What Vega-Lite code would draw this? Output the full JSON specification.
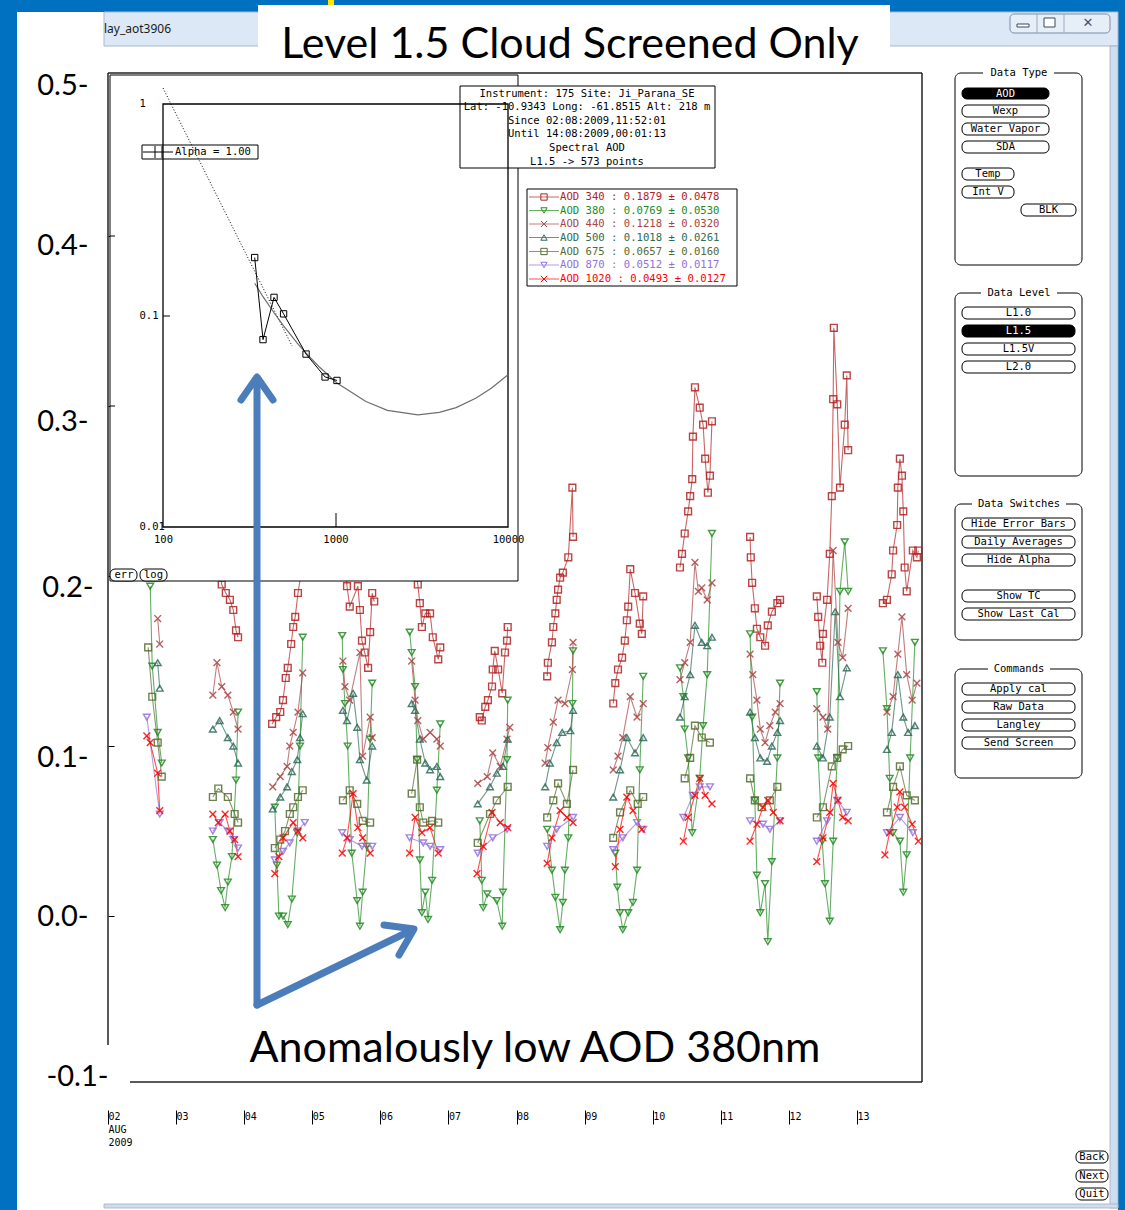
{
"$schema":"https://vega.github.io/schema/vega-lite/v6.json",
"width":1125,"height":1210,"autosize":"none","padding":0,"background":"white",
"config":{"view":{"stroke":null},"axis":{"grid":false,"title":null}},
"resolve":{"scale":{"x":"independent","y":"independent","color":"independent","shape":"independent"},"axis":{"x":"independent","y":"independent"}},
"datasets":{
"aod":[
{"w":340,"d":2,"t":2.59,"v":0.26},{"w":340,"d":2,"t":2.65,"v":0.24},{"w":340,"d":2,"t":2.73,"v":0.25},
{"w":380,"d":2,"t":2.62,"v":0.194},{"w":380,"d":2,"t":2.65,"v":0.147},{"w":380,"d":2,"t":2.73,"v":0.108},{"w":380,"d":2,"t":2.79,"v":0.09},
{"w":440,"d":2,"t":2.73,"v":0.175},{"w":440,"d":2,"t":2.76,"v":0.16},
{"w":500,"d":2,"t":2.73,"v":0.149},{"w":500,"d":2,"t":2.76,"v":0.134},
{"w":675,"d":2,"t":2.59,"v":0.158},{"w":675,"d":2,"t":2.65,"v":0.129},{"w":675,"d":2,"t":2.73,"v":0.102},{"w":675,"d":2,"t":2.79,"v":0.082},
{"w":870,"d":2,"t":2.57,"v":0.117},{"w":870,"d":2,"t":2.76,"v":0.06},
{"w":1020,"d":2,"t":2.57,"v":0.106},{"w":1020,"d":2,"t":2.62,"v":0.102},{"w":1020,"d":2,"t":2.73,"v":0.084},{"w":1020,"d":2,"t":2.76,"v":0.062},
{"w":340,"d":3,"t":3.56,"v":0.23},{"w":340,"d":3,"t":3.62,"v":0.215},{"w":340,"d":3,"t":3.67,"v":0.195},{"w":340,"d":3,"t":3.73,"v":0.19},{"w":340,"d":3,"t":3.79,"v":0.186},{"w":340,"d":3,"t":3.84,"v":0.18},{"w":340,"d":3,"t":3.88,"v":0.168},{"w":340,"d":3,"t":3.91,"v":0.164},
{"w":380,"d":3,"t":3.54,"v":0.045},{"w":380,"d":3,"t":3.60,"v":0.03},{"w":380,"d":3,"t":3.66,"v":0.015},{"w":380,"d":3,"t":3.72,"v":0.005},{"w":380,"d":3,"t":3.76,"v":0.02},{"w":380,"d":3,"t":3.82,"v":0.035},{"w":380,"d":3,"t":3.88,"v":0.08},{"w":380,"d":3,"t":3.91,"v":0.12},
{"w":440,"d":3,"t":3.54,"v":0.13},{"w":440,"d":3,"t":3.60,"v":0.149},{"w":440,"d":3,"t":3.67,"v":0.135},{"w":440,"d":3,"t":3.76,"v":0.13},{"w":440,"d":3,"t":3.84,"v":0.12},{"w":440,"d":3,"t":3.91,"v":0.11},
{"w":500,"d":3,"t":3.54,"v":0.11},{"w":500,"d":3,"t":3.64,"v":0.115},{"w":500,"d":3,"t":3.76,"v":0.105},{"w":500,"d":3,"t":3.84,"v":0.1},{"w":500,"d":3,"t":3.91,"v":0.09},
{"w":675,"d":3,"t":3.54,"v":0.07},{"w":675,"d":3,"t":3.62,"v":0.075},{"w":675,"d":3,"t":3.76,"v":0.07},{"w":675,"d":3,"t":3.86,"v":0.06},{"w":675,"d":3,"t":3.91,"v":0.055},
{"w":870,"d":3,"t":3.54,"v":0.05},{"w":870,"d":3,"t":3.64,"v":0.055},{"w":870,"d":3,"t":3.76,"v":0.05},{"w":870,"d":3,"t":3.84,"v":0.045},{"w":870,"d":3,"t":3.91,"v":0.04},
{"w":1020,"d":3,"t":3.54,"v":0.06},{"w":1020,"d":3,"t":3.62,"v":0.055},{"w":1020,"d":3,"t":3.72,"v":0.06},{"w":1020,"d":3,"t":3.79,"v":0.05},{"w":1020,"d":3,"t":3.86,"v":0.045},{"w":1020,"d":3,"t":3.91,"v":0.035},
{"w":340,"d":4,"t":4.41,"v":0.113},{"w":340,"d":4,"t":4.47,"v":0.117},{"w":340,"d":4,"t":4.53,"v":0.12},{"w":340,"d":4,"t":4.57,"v":0.127},{"w":340,"d":4,"t":4.61,"v":0.14},{"w":340,"d":4,"t":4.64,"v":0.146},{"w":340,"d":4,"t":4.69,"v":0.16},{"w":340,"d":4,"t":4.72,"v":0.17},{"w":340,"d":4,"t":4.75,"v":0.176},{"w":340,"d":4,"t":4.79,"v":0.19},{"w":340,"d":4,"t":4.83,"v":0.2},{"w":340,"d":4,"t":4.88,"v":0.21},
{"w":380,"d":4,"t":4.45,"v":0.064},{"w":380,"d":4,"t":4.48,"v":0.03},{"w":380,"d":4,"t":4.51,"v":0.0},{"w":380,"d":4,"t":4.57,"v":0.0},{"w":380,"d":4,"t":4.64,"v":-0.005},{"w":380,"d":4,"t":4.70,"v":0.01},{"w":380,"d":4,"t":4.78,"v":0.049},{"w":380,"d":4,"t":4.82,"v":0.1},{"w":380,"d":4,"t":4.86,"v":0.164},
{"w":440,"d":4,"t":4.42,"v":0.076},{"w":440,"d":4,"t":4.53,"v":0.082},{"w":440,"d":4,"t":4.63,"v":0.088},{"w":440,"d":4,"t":4.67,"v":0.1},{"w":440,"d":4,"t":4.72,"v":0.108},{"w":440,"d":4,"t":4.79,"v":0.12},{"w":440,"d":4,"t":4.86,"v":0.143},
{"w":500,"d":4,"t":4.42,"v":0.063},{"w":500,"d":4,"t":4.53,"v":0.07},{"w":500,"d":4,"t":4.63,"v":0.076},{"w":500,"d":4,"t":4.70,"v":0.085},{"w":500,"d":4,"t":4.78,"v":0.092},{"w":500,"d":4,"t":4.82,"v":0.105},{"w":500,"d":4,"t":4.86,"v":0.119},
{"w":675,"d":4,"t":4.45,"v":0.04},{"w":675,"d":4,"t":4.53,"v":0.045},{"w":675,"d":4,"t":4.60,"v":0.05},{"w":675,"d":4,"t":4.67,"v":0.06},{"w":675,"d":4,"t":4.72,"v":0.064},{"w":675,"d":4,"t":4.79,"v":0.07},{"w":675,"d":4,"t":4.86,"v":0.074},
{"w":870,"d":4,"t":4.45,"v":0.033},{"w":870,"d":4,"t":4.57,"v":0.038},{"w":870,"d":4,"t":4.67,"v":0.043},{"w":870,"d":4,"t":4.78,"v":0.05},{"w":870,"d":4,"t":4.89,"v":0.055},
{"w":1020,"d":4,"t":4.45,"v":0.025},{"w":1020,"d":4,"t":4.51,"v":0.035},{"w":1020,"d":4,"t":4.57,"v":0.046},{"w":1020,"d":4,"t":4.72,"v":0.055},{"w":1020,"d":4,"t":4.79,"v":0.05},{"w":1020,"d":4,"t":4.86,"v":0.046},
{"w":340,"d":5,"t":5.44,"v":0.22},{"w":340,"d":5,"t":5.48,"v":0.21},{"w":340,"d":5,"t":5.51,"v":0.194},{"w":340,"d":5,"t":5.55,"v":0.182},{"w":340,"d":5,"t":5.67,"v":0.194},{"w":340,"d":5,"t":5.70,"v":0.18},{"w":340,"d":5,"t":5.73,"v":0.162},{"w":340,"d":5,"t":5.77,"v":0.155},{"w":340,"d":5,"t":5.82,"v":0.146},{"w":340,"d":5,"t":5.85,"v":0.167},{"w":340,"d":5,"t":5.88,"v":0.19},{"w":340,"d":5,"t":5.91,"v":0.185},
{"w":380,"d":5,"t":5.44,"v":0.165},{"w":380,"d":5,"t":5.45,"v":0.145},{"w":380,"d":5,"t":5.48,"v":0.125},{"w":380,"d":5,"t":5.52,"v":0.1},{"w":380,"d":5,"t":5.58,"v":0.037},{"w":380,"d":5,"t":5.66,"v":0.009},{"w":380,"d":5,"t":5.70,"v":-0.006},{"w":380,"d":5,"t":5.74,"v":0.014},{"w":380,"d":5,"t":5.80,"v":0.041},{"w":380,"d":5,"t":5.85,"v":0.104},{"w":380,"d":5,"t":5.88,"v":0.137},
{"w":440,"d":5,"t":5.45,"v":0.15},{"w":440,"d":5,"t":5.48,"v":0.135},{"w":440,"d":5,"t":5.55,"v":0.127},{"w":440,"d":5,"t":5.70,"v":0.155},{"w":440,"d":5,"t":5.74,"v":0.094},{"w":440,"d":5,"t":5.85,"v":0.117},{"w":440,"d":5,"t":5.88,"v":0.105},
{"w":500,"d":5,"t":5.45,"v":0.121},{"w":500,"d":5,"t":5.51,"v":0.115},{"w":500,"d":5,"t":5.60,"v":0.131},{"w":500,"d":5,"t":5.66,"v":0.111},{"w":500,"d":5,"t":5.70,"v":0.092},{"w":500,"d":5,"t":5.80,"v":0.08},{"w":500,"d":5,"t":5.88,"v":0.1},
{"w":675,"d":5,"t":5.45,"v":0.068},{"w":675,"d":5,"t":5.55,"v":0.074},{"w":675,"d":5,"t":5.66,"v":0.066},{"w":675,"d":5,"t":5.74,"v":0.056},{"w":675,"d":5,"t":5.85,"v":0.055},
{"w":870,"d":5,"t":5.44,"v":0.049},{"w":870,"d":5,"t":5.55,"v":0.045},{"w":870,"d":5,"t":5.73,"v":0.041},{"w":870,"d":5,"t":5.88,"v":0.041},
{"w":1020,"d":5,"t":5.44,"v":0.037},{"w":1020,"d":5,"t":5.51,"v":0.046},{"w":1020,"d":5,"t":5.60,"v":0.072},{"w":1020,"d":5,"t":5.67,"v":0.052},{"w":1020,"d":5,"t":5.74,"v":0.046},{"w":1020,"d":5,"t":5.85,"v":0.037},
{"w":340,"d":6,"t":6.42,"v":0.23},{"w":340,"d":6,"t":6.48,"v":0.215},{"w":340,"d":6,"t":6.55,"v":0.195},{"w":340,"d":6,"t":6.58,"v":0.184},{"w":340,"d":6,"t":6.61,"v":0.17},{"w":340,"d":6,"t":6.66,"v":0.178},{"w":340,"d":6,"t":6.73,"v":0.178},{"w":340,"d":6,"t":6.77,"v":0.164},{"w":340,"d":6,"t":6.85,"v":0.151},{"w":340,"d":6,"t":6.88,"v":0.158},
{"w":380,"d":6,"t":6.43,"v":0.167},{"w":380,"d":6,"t":6.46,"v":0.155},{"w":380,"d":6,"t":6.51,"v":0.135},{"w":380,"d":6,"t":6.54,"v":0.092},{"w":380,"d":6,"t":6.58,"v":0.033},{"w":380,"d":6,"t":6.61,"v":0.002},{"w":380,"d":6,"t":6.66,"v":0.014},{"w":380,"d":6,"t":6.70,"v":-0.002},{"w":380,"d":6,"t":6.76,"v":0.021},{"w":380,"d":6,"t":6.83,"v":0.074},{"w":380,"d":6,"t":6.88,"v":0.113},
{"w":440,"d":6,"t":6.46,"v":0.15},{"w":440,"d":6,"t":6.51,"v":0.127},{"w":440,"d":6,"t":6.55,"v":0.115},{"w":440,"d":6,"t":6.63,"v":0.104},{"w":440,"d":6,"t":6.73,"v":0.108},{"w":440,"d":6,"t":6.83,"v":0.104},{"w":440,"d":6,"t":6.88,"v":0.1},
{"w":500,"d":6,"t":6.46,"v":0.125},{"w":500,"d":6,"t":6.51,"v":0.121},{"w":500,"d":6,"t":6.58,"v":0.104},{"w":500,"d":6,"t":6.66,"v":0.09},{"w":500,"d":6,"t":6.73,"v":0.086},{"w":500,"d":6,"t":6.83,"v":0.088},{"w":500,"d":6,"t":6.88,"v":0.082},
{"w":675,"d":6,"t":6.46,"v":0.072},{"w":675,"d":6,"t":6.54,"v":0.092},{"w":675,"d":6,"t":6.58,"v":0.064},{"w":675,"d":6,"t":6.63,"v":0.055},{"w":675,"d":6,"t":6.76,"v":0.056},{"w":675,"d":6,"t":6.85,"v":0.055},
{"w":870,"d":6,"t":6.43,"v":0.046},{"w":870,"d":6,"t":6.63,"v":0.043},{"w":870,"d":6,"t":6.73,"v":0.041},{"w":870,"d":6,"t":6.88,"v":0.039},
{"w":1020,"d":6,"t":6.43,"v":0.037},{"w":1020,"d":6,"t":6.51,"v":0.058},{"w":1020,"d":6,"t":6.61,"v":0.049},{"w":1020,"d":6,"t":6.73,"v":0.052},{"w":1020,"d":6,"t":6.85,"v":0.037},
{"w":340,"d":7,"t":7.46,"v":0.117},{"w":340,"d":7,"t":7.49,"v":0.115},{"w":340,"d":7,"t":7.54,"v":0.123},{"w":340,"d":7,"t":7.58,"v":0.127},{"w":340,"d":7,"t":7.64,"v":0.135},{"w":340,"d":7,"t":7.65,"v":0.145},{"w":340,"d":7,"t":7.68,"v":0.156},{"w":340,"d":7,"t":7.73,"v":0.145},{"w":340,"d":7,"t":7.79,"v":0.131},{"w":340,"d":7,"t":7.83,"v":0.155},{"w":340,"d":7,"t":7.86,"v":0.162},{"w":340,"d":7,"t":7.87,"v":0.17},
{"w":380,"d":7,"t":7.46,"v":0.056},{"w":380,"d":7,"t":7.49,"v":0.021},{"w":380,"d":7,"t":7.51,"v":0.005},{"w":380,"d":7,"t":7.57,"v":0.013},{"w":380,"d":7,"t":7.71,"v":0.009},{"w":380,"d":7,"t":7.79,"v":-0.006},{"w":380,"d":7,"t":7.80,"v":0.014},{"w":380,"d":7,"t":7.86,"v":0.092},{"w":380,"d":7,"t":7.87,"v":0.127},
{"w":440,"d":7,"t":7.43,"v":0.078},{"w":440,"d":7,"t":7.57,"v":0.082},{"w":440,"d":7,"t":7.65,"v":0.096},{"w":440,"d":7,"t":7.76,"v":0.088},{"w":440,"d":7,"t":7.86,"v":0.104},{"w":440,"d":7,"t":7.90,"v":0.111},
{"w":500,"d":7,"t":7.43,"v":0.066},{"w":500,"d":7,"t":7.61,"v":0.076},{"w":500,"d":7,"t":7.71,"v":0.084},{"w":500,"d":7,"t":7.80,"v":0.088},{"w":500,"d":7,"t":7.87,"v":0.104},
{"w":675,"d":7,"t":7.43,"v":0.043},{"w":675,"d":7,"t":7.61,"v":0.06},{"w":675,"d":7,"t":7.71,"v":0.068},{"w":675,"d":7,"t":7.87,"v":0.076},
{"w":870,"d":7,"t":7.43,"v":0.037},{"w":870,"d":7,"t":7.65,"v":0.046},{"w":870,"d":7,"t":7.86,"v":0.051},
{"w":1020,"d":7,"t":7.42,"v":0.025},{"w":1020,"d":7,"t":7.51,"v":0.041},{"w":1020,"d":7,"t":7.64,"v":0.061},{"w":1020,"d":7,"t":7.76,"v":0.055},{"w":1020,"d":7,"t":7.87,"v":0.052},
{"w":340,"d":8,"t":8.45,"v":0.141},{"w":340,"d":8,"t":8.46,"v":0.149},{"w":340,"d":8,"t":8.52,"v":0.161},{"w":340,"d":8,"t":8.54,"v":0.17},{"w":340,"d":8,"t":8.57,"v":0.178},{"w":340,"d":8,"t":8.59,"v":0.186},{"w":340,"d":8,"t":8.61,"v":0.192},{"w":340,"d":8,"t":8.64,"v":0.199},{"w":340,"d":8,"t":8.68,"v":0.202},{"w":340,"d":8,"t":8.76,"v":0.211},{"w":340,"d":8,"t":8.82,"v":0.252},{"w":340,"d":8,"t":8.83,"v":0.223},
{"w":380,"d":8,"t":8.45,"v":0.051},{"w":380,"d":8,"t":8.52,"v":0.027},{"w":380,"d":8,"t":8.57,"v":0.011},{"w":380,"d":8,"t":8.64,"v":-0.008},{"w":380,"d":8,"t":8.68,"v":0.008},{"w":380,"d":8,"t":8.71,"v":0.027},{"w":380,"d":8,"t":8.76,"v":0.046},{"w":380,"d":8,"t":8.82,"v":0.125},{"w":380,"d":8,"t":8.83,"v":0.156},
{"w":440,"d":8,"t":8.42,"v":0.09},{"w":440,"d":8,"t":8.46,"v":0.099},{"w":440,"d":8,"t":8.54,"v":0.114},{"w":440,"d":8,"t":8.61,"v":0.127},{"w":440,"d":8,"t":8.71,"v":0.125},{"w":440,"d":8,"t":8.82,"v":0.145},{"w":440,"d":8,"t":8.83,"v":0.161},
{"w":500,"d":8,"t":8.42,"v":0.076},{"w":500,"d":8,"t":8.49,"v":0.09},{"w":500,"d":8,"t":8.59,"v":0.102},{"w":500,"d":8,"t":8.67,"v":0.108},{"w":500,"d":8,"t":8.79,"v":0.109},{"w":500,"d":8,"t":8.83,"v":0.121},
{"w":675,"d":8,"t":8.45,"v":0.058},{"w":675,"d":8,"t":8.54,"v":0.068},{"w":675,"d":8,"t":8.61,"v":0.078},{"w":675,"d":8,"t":8.74,"v":0.066},{"w":675,"d":8,"t":8.83,"v":0.086},
{"w":870,"d":8,"t":8.45,"v":0.041},{"w":870,"d":8,"t":8.59,"v":0.051},{"w":870,"d":8,"t":8.83,"v":0.058},
{"w":1020,"d":8,"t":8.45,"v":0.031},{"w":1020,"d":8,"t":8.52,"v":0.046},{"w":1020,"d":8,"t":8.64,"v":0.062},{"w":1020,"d":8,"t":8.74,"v":0.058},{"w":1020,"d":8,"t":8.83,"v":0.055},
{"w":340,"d":9,"t":9.42,"v":0.125},{"w":340,"d":9,"t":9.45,"v":0.137},{"w":340,"d":9,"t":9.49,"v":0.145},{"w":340,"d":9,"t":9.55,"v":0.152},{"w":340,"d":9,"t":9.59,"v":0.162},{"w":340,"d":9,"t":9.62,"v":0.174},{"w":340,"d":9,"t":9.64,"v":0.182},{"w":340,"d":9,"t":9.67,"v":0.204},{"w":340,"d":9,"t":9.74,"v":0.19},{"w":340,"d":9,"t":9.81,"v":0.172},{"w":340,"d":9,"t":9.84,"v":0.166},{"w":340,"d":9,"t":9.86,"v":0.188},
{"w":380,"d":9,"t":9.45,"v":0.037},{"w":380,"d":9,"t":9.48,"v":0.017},{"w":380,"d":9,"t":9.52,"v":0.002},{"w":380,"d":9,"t":9.56,"v":-0.008},{"w":380,"d":9,"t":9.64,"v":0.002},{"w":380,"d":9,"t":9.71,"v":0.008},{"w":380,"d":9,"t":9.77,"v":0.027},{"w":380,"d":9,"t":9.81,"v":0.086},{"w":380,"d":9,"t":9.86,"v":0.141},
{"w":440,"d":9,"t":9.42,"v":0.086},{"w":440,"d":9,"t":9.49,"v":0.094},{"w":440,"d":9,"t":9.56,"v":0.105},{"w":440,"d":9,"t":9.67,"v":0.129},{"w":440,"d":9,"t":9.77,"v":0.117},{"w":440,"d":9,"t":9.86,"v":0.125},
{"w":500,"d":9,"t":9.42,"v":0.07},{"w":500,"d":9,"t":9.52,"v":0.086},{"w":500,"d":9,"t":9.62,"v":0.105},{"w":500,"d":9,"t":9.74,"v":0.096},{"w":500,"d":9,"t":9.86,"v":0.105},
{"w":675,"d":9,"t":9.42,"v":0.046},{"w":675,"d":9,"t":9.52,"v":0.061},{"w":675,"d":9,"t":9.67,"v":0.074},{"w":675,"d":9,"t":9.78,"v":0.066},{"w":675,"d":9,"t":9.86,"v":0.07},
{"w":870,"d":9,"t":9.42,"v":0.039},{"w":870,"d":9,"t":9.56,"v":0.046},{"w":870,"d":9,"t":9.77,"v":0.055},{"w":870,"d":9,"t":9.86,"v":0.051},
{"w":1020,"d":9,"t":9.45,"v":0.029},{"w":1020,"d":9,"t":9.52,"v":0.051},{"w":1020,"d":9,"t":9.62,"v":0.07},{"w":1020,"d":9,"t":9.71,"v":0.062},{"w":1020,"d":9,"t":9.84,"v":0.051},
{"w":340,"d":10,"t":10.40,"v":0.205},{"w":340,"d":10,"t":10.43,"v":0.213},{"w":340,"d":10,"t":10.47,"v":0.225},{"w":340,"d":10,"t":10.52,"v":0.238},{"w":340,"d":10,"t":10.55,"v":0.247},{"w":340,"d":10,"t":10.58,"v":0.257},{"w":340,"d":10,"t":10.59,"v":0.282},{"w":340,"d":10,"t":10.62,"v":0.311},{"w":340,"d":10,"t":10.69,"v":0.299},{"w":340,"d":10,"t":10.74,"v":0.289},{"w":340,"d":10,"t":10.77,"v":0.269},{"w":340,"d":10,"t":10.81,"v":0.249},{"w":340,"d":10,"t":10.84,"v":0.259},{"w":340,"d":10,"t":10.87,"v":0.291},
{"w":380,"d":10,"t":10.40,"v":0.146},{"w":380,"d":10,"t":10.45,"v":0.129},{"w":380,"d":10,"t":10.47,"v":0.11},{"w":380,"d":10,"t":10.52,"v":0.093},{"w":380,"d":10,"t":10.58,"v":0.049},{"w":380,"d":10,"t":10.69,"v":0.081},{"w":380,"d":10,"t":10.74,"v":0.112},{"w":380,"d":10,"t":10.80,"v":0.142},{"w":380,"d":10,"t":10.87,"v":0.225},
{"w":440,"d":10,"t":10.40,"v":0.139},{"w":440,"d":10,"t":10.47,"v":0.149},{"w":440,"d":10,"t":10.55,"v":0.161},{"w":440,"d":10,"t":10.62,"v":0.208},{"w":440,"d":10,"t":10.67,"v":0.191},{"w":440,"d":10,"t":10.72,"v":0.193},{"w":440,"d":10,"t":10.80,"v":0.186},{"w":440,"d":10,"t":10.87,"v":0.196},
{"w":500,"d":10,"t":10.40,"v":0.117},{"w":500,"d":10,"t":10.47,"v":0.129},{"w":500,"d":10,"t":10.55,"v":0.142},{"w":500,"d":10,"t":10.62,"v":0.171},{"w":500,"d":10,"t":10.72,"v":0.161},{"w":500,"d":10,"t":10.80,"v":0.159},{"w":500,"d":10,"t":10.87,"v":0.164},
{"w":675,"d":10,"t":10.47,"v":0.081},{"w":675,"d":10,"t":10.55,"v":0.093},{"w":675,"d":10,"t":10.62,"v":0.112},{"w":675,"d":10,"t":10.72,"v":0.105},{"w":675,"d":10,"t":10.84,"v":0.102},
{"w":870,"d":10,"t":10.45,"v":0.058},{"w":870,"d":10,"t":10.59,"v":0.071},{"w":870,"d":10,"t":10.69,"v":0.076},{"w":870,"d":10,"t":10.84,"v":0.076},
{"w":1020,"d":10,"t":10.45,"v":0.044},{"w":1020,"d":10,"t":10.52,"v":0.058},{"w":1020,"d":10,"t":10.62,"v":0.071},{"w":1020,"d":10,"t":10.69,"v":0.081},{"w":1020,"d":10,"t":10.77,"v":0.071},{"w":1020,"d":10,"t":10.87,"v":0.066},
{"w":340,"d":11,"t":11.43,"v":0.223},{"w":340,"d":11,"t":11.44,"v":0.211},{"w":340,"d":11,"t":11.46,"v":0.196},{"w":340,"d":11,"t":11.50,"v":0.181},{"w":340,"d":11,"t":11.53,"v":0.169},{"w":340,"d":11,"t":11.58,"v":0.164},{"w":340,"d":11,"t":11.65,"v":0.159},{"w":340,"d":11,"t":11.69,"v":0.171},{"w":340,"d":11,"t":11.75,"v":0.179},{"w":340,"d":11,"t":11.83,"v":0.184},{"w":340,"d":11,"t":11.87,"v":0.186},
{"w":380,"d":11,"t":11.43,"v":0.166},{"w":380,"d":11,"t":11.46,"v":0.117},{"w":380,"d":11,"t":11.50,"v":0.068},{"w":380,"d":11,"t":11.53,"v":0.024},{"w":380,"d":11,"t":11.58,"v":0.002},{"w":380,"d":11,"t":11.65,"v":0.019},{"w":380,"d":11,"t":11.69,"v":-0.015},{"w":380,"d":11,"t":11.75,"v":0.032},{"w":380,"d":11,"t":11.83,"v":0.093},{"w":380,"d":11,"t":11.87,"v":0.137},
{"w":440,"d":11,"t":11.43,"v":0.154},{"w":440,"d":11,"t":11.47,"v":0.142},{"w":440,"d":11,"t":11.53,"v":0.127},{"w":440,"d":11,"t":11.58,"v":0.11},{"w":440,"d":11,"t":11.65,"v":0.102},{"w":440,"d":11,"t":11.72,"v":0.112},{"w":440,"d":11,"t":11.80,"v":0.12},{"w":440,"d":11,"t":11.87,"v":0.125},
{"w":500,"d":11,"t":11.43,"v":0.12},{"w":500,"d":11,"t":11.50,"v":0.105},{"w":500,"d":11,"t":11.58,"v":0.093},{"w":500,"d":11,"t":11.68,"v":0.091},{"w":500,"d":11,"t":11.75,"v":0.1},{"w":500,"d":11,"t":11.83,"v":0.108},{"w":500,"d":11,"t":11.87,"v":0.115},
{"w":675,"d":11,"t":11.43,"v":0.081},{"w":675,"d":11,"t":11.50,"v":0.068},{"w":675,"d":11,"t":11.60,"v":0.064},{"w":675,"d":11,"t":11.72,"v":0.068},{"w":675,"d":11,"t":11.83,"v":0.076},
{"w":870,"d":11,"t":11.43,"v":0.056},{"w":870,"d":11,"t":11.62,"v":0.054},{"w":870,"d":11,"t":11.72,"v":0.051},{"w":870,"d":11,"t":11.87,"v":0.056},
{"w":1020,"d":11,"t":11.43,"v":0.044},{"w":1020,"d":11,"t":11.53,"v":0.054},{"w":1020,"d":11,"t":11.62,"v":0.064},{"w":1020,"d":11,"t":11.69,"v":0.068},{"w":1020,"d":11,"t":11.77,"v":0.061},{"w":1020,"d":11,"t":11.87,"v":0.056},
{"w":340,"d":12,"t":12.41,"v":0.188},{"w":340,"d":12,"t":12.43,"v":0.176},{"w":340,"d":12,"t":12.46,"v":0.159},{"w":340,"d":12,"t":12.49,"v":0.149},{"w":340,"d":12,"t":12.50,"v":0.166},{"w":340,"d":12,"t":12.56,"v":0.186},{"w":340,"d":12,"t":12.60,"v":0.213},{"w":340,"d":12,"t":12.63,"v":0.247},{"w":340,"d":12,"t":12.65,"v":0.304},{"w":340,"d":12,"t":12.66,"v":0.346},{"w":340,"d":12,"t":12.71,"v":0.301},{"w":340,"d":12,"t":12.75,"v":0.252},{"w":340,"d":12,"t":12.82,"v":0.289},{"w":340,"d":12,"t":12.85,"v":0.318},{"w":340,"d":12,"t":12.87,"v":0.274},
{"w":380,"d":12,"t":12.41,"v":0.132},{"w":380,"d":12,"t":12.43,"v":0.093},{"w":380,"d":12,"t":12.49,"v":0.044},{"w":380,"d":12,"t":12.53,"v":0.019},{"w":380,"d":12,"t":12.60,"v":-0.003},{"w":380,"d":12,"t":12.65,"v":0.044},{"w":380,"d":12,"t":12.71,"v":0.093},{"w":380,"d":12,"t":12.75,"v":0.191},{"w":380,"d":12,"t":12.82,"v":0.22},{"w":380,"d":12,"t":12.87,"v":0.191},
{"w":440,"d":12,"t":12.41,"v":0.122},{"w":440,"d":12,"t":12.50,"v":0.117},{"w":440,"d":12,"t":12.57,"v":0.11},{"w":440,"d":12,"t":12.65,"v":0.215},{"w":440,"d":12,"t":12.72,"v":0.161},{"w":440,"d":12,"t":12.79,"v":0.152},{"w":440,"d":12,"t":12.87,"v":0.181},
{"w":500,"d":12,"t":12.41,"v":0.1},{"w":500,"d":12,"t":12.50,"v":0.093},{"w":500,"d":12,"t":12.60,"v":0.117},{"w":500,"d":12,"t":12.68,"v":0.179},{"w":500,"d":12,"t":12.75,"v":0.129},{"w":500,"d":12,"t":12.85,"v":0.146},
{"w":675,"d":12,"t":12.41,"v":0.058},{"w":675,"d":12,"t":12.50,"v":0.064},{"w":675,"d":12,"t":12.63,"v":0.088},{"w":675,"d":12,"t":12.71,"v":0.093},{"w":675,"d":12,"t":12.79,"v":0.098},{"w":675,"d":12,"t":12.87,"v":0.1},
{"w":870,"d":12,"t":12.41,"v":0.044},{"w":870,"d":12,"t":12.56,"v":0.056},{"w":870,"d":12,"t":12.71,"v":0.068},{"w":870,"d":12,"t":12.85,"v":0.061},
{"w":1020,"d":12,"t":12.41,"v":0.032},{"w":1020,"d":12,"t":12.50,"v":0.046},{"w":1020,"d":12,"t":12.60,"v":0.061},{"w":1020,"d":12,"t":12.65,"v":0.078},{"w":1020,"d":12,"t":12.72,"v":0.068},{"w":1020,"d":12,"t":12.79,"v":0.058},{"w":1020,"d":12,"t":12.87,"v":0.056},
{"w":340,"d":13,"t":13.38,"v":0.184},{"w":340,"d":13,"t":13.44,"v":0.186},{"w":340,"d":13,"t":13.51,"v":0.201},{"w":340,"d":13,"t":13.53,"v":0.215},{"w":340,"d":13,"t":13.59,"v":0.23},{"w":340,"d":13,"t":13.60,"v":0.252},{"w":340,"d":13,"t":13.63,"v":0.269},{"w":340,"d":13,"t":13.66,"v":0.259},{"w":340,"d":13,"t":13.68,"v":0.238},{"w":340,"d":13,"t":13.70,"v":0.205},{"w":340,"d":13,"t":13.73,"v":0.191},{"w":340,"d":13,"t":13.82,"v":0.215},{"w":340,"d":13,"t":13.88,"v":0.211},{"w":340,"d":13,"t":13.90,"v":0.215},
{"w":380,"d":13,"t":13.38,"v":0.156},{"w":380,"d":13,"t":13.44,"v":0.122},{"w":380,"d":13,"t":13.48,"v":0.081},{"w":380,"d":13,"t":13.53,"v":0.049},{"w":380,"d":13,"t":13.63,"v":0.044},{"w":380,"d":13,"t":13.68,"v":0.014},{"w":380,"d":13,"t":13.73,"v":0.036},{"w":380,"d":13,"t":13.78,"v":0.093},{"w":380,"d":13,"t":13.85,"v":0.161},
{"w":440,"d":13,"t":13.44,"v":0.12},{"w":440,"d":13,"t":13.53,"v":0.129},{"w":440,"d":13,"t":13.60,"v":0.154},{"w":440,"d":13,"t":13.66,"v":0.176},{"w":440,"d":13,"t":13.73,"v":0.142},{"w":440,"d":13,"t":13.81,"v":0.127},{"w":440,"d":13,"t":13.88,"v":0.137},
{"w":500,"d":13,"t":13.44,"v":0.098},{"w":500,"d":13,"t":13.51,"v":0.108},{"w":500,"d":13,"t":13.60,"v":0.142},{"w":500,"d":13,"t":13.68,"v":0.117},{"w":500,"d":13,"t":13.75,"v":0.108},{"w":500,"d":13,"t":13.85,"v":0.112},
{"w":675,"d":13,"t":13.44,"v":0.061},{"w":675,"d":13,"t":13.53,"v":0.076},{"w":675,"d":13,"t":13.63,"v":0.088},{"w":675,"d":13,"t":13.73,"v":0.071},{"w":675,"d":13,"t":13.85,"v":0.068},
{"w":870,"d":13,"t":13.44,"v":0.049},{"w":870,"d":13,"t":13.63,"v":0.058},{"w":870,"d":13,"t":13.82,"v":0.049},
{"w":1020,"d":13,"t":13.41,"v":0.036},{"w":1020,"d":13,"t":13.48,"v":0.049},{"w":1020,"d":13,"t":13.59,"v":0.064},{"w":1020,"d":13,"t":13.63,"v":0.073},{"w":1020,"d":13,"t":13.70,"v":0.064},{"w":1020,"d":13,"t":13.81,"v":0.054},{"w":1020,"d":13,"t":13.90,"v":0.044}
],
"means":[{"wl":340,"aod":0.1879},{"wl":380,"aod":0.0769},{"wl":440,"aod":0.1218},{"wl":500,"aod":0.1018},{"wl":675,"aod":0.0657},{"wl":870,"aod":0.0512},{"wl":1020,"aod":0.0493}],
"curve":[{"wl":340,"aod":0.142},{"wl":380,"aod":0.1227},{"wl":440,"aod":0.103},{"wl":500,"aod":0.0893},{"wl":600,"aod":0.0741},{"wl":675,"aod":0.0664},{"wl":800,"aod":0.0574},{"wl":1020,"aod":0.048},{"wl":1500,"aod":0.0392},{"wl":2000,"aod":0.0356},{"wl":3000,"aod":0.0339},{"wl":4000,"aod":0.0348},{"wl":5000,"aod":0.0367},{"wl":6500,"aod":0.0406},{"wl":8000,"aod":0.0453},{"wl":10000,"aod":0.0525}],
"alpha":[{"wl":100,"aod":1.19},{"wl":560,"aod":0.0717}],
"boxes":[{"x":110,"x2":518,"y":75,"y2":581},{"x":142,"x2":258,"y":145,"y2":159},{"x":460,"x2":715,"y":86,"y2":168},{"x":527,"x2":737,"y":189,"y2":286}],
"groups":[{"x":955,"x2":1082,"y":73,"y2":265},{"x":955,"x2":1082,"y":293,"y2":476},{"x":955,"x2":1082,"y":504,"y2":640},{"x":955,"x2":1082,"y":669,"y2":778}],
"gaps":[{"x":983,"x2":1054,"y":68,"y2":79},{"x":981,"x2":1057,"y":288,"y2":299},{"x":972,"x2":1066,"y":499,"y2":510},{"x":988,"x2":1050,"y":664,"y2":675}],
"ctext":[{"x":1019,"y":73,"t":"Data Type"},{"x":1019,"y":293,"t":"Data Level"},{"x":1019,"y":504,"t":"Data Switches"},{"x":1019,"y":669,"t":"Commands"},
{"x":587,"y":94,"t":"Instrument: 175 Site: Ji_Parana_SE"},{"x":587,"y":107,"t":"Lat: -10.9343 Long: -61.8515 Alt: 218 m"},{"x":587,"y":121,"t":"Since 02:08:2009,11:52:01"},{"x":587,"y":134,"t":"Until 14:08:2009,00:01:13"},{"x":587,"y":148,"t":"Spectral AOD"},{"x":587,"y":162,"t":"L1.5 -> 573 points"}],
"rules":[{"x":336,"x2":336,"y":513,"y2":527},{"x":163,"x2":170,"y":316,"y2":316},{"x":110,"x2":115,"y":236,"y2":236},{"x":110,"x2":115,"y":406,"y2":406},{"x":143,"x2":173,"y":152,"y2":152},{"x":155,"x2":155,"y":146,"y2":158},{"x":162,"x2":162,"y":146,"y2":158}],
"buttons":[
{"t":"AOD","x":962,"x2":1049,"y":88,"y2":99,"cx":1005.5,"cy":93.5,"on":true},
{"t":"Wexp","x":962,"x2":1049,"y":105,"y2":117,"cx":1005.5,"cy":111},
{"t":"Water Vapor","x":962,"x2":1049,"y":123,"y2":135,"cx":1005.5,"cy":129},
{"t":"SDA","x":962,"x2":1049,"y":141,"y2":153,"cx":1005.5,"cy":147},
{"t":"Temp","x":962,"x2":1014,"y":168,"y2":180,"cx":988,"cy":174},
{"t":"Int V","x":962,"x2":1014,"y":186,"y2":198,"cx":988,"cy":192},
{"t":"BLK","x":1021,"x2":1076,"y":204,"y2":216,"cx":1048.5,"cy":210},
{"t":"L1.0","x":962,"x2":1075,"y":307,"y2":319,"cx":1018.5,"cy":313},
{"t":"L1.5","x":962,"x2":1075,"y":325,"y2":337,"cx":1018.5,"cy":331,"on":true},
{"t":"L1.5V","x":962,"x2":1075,"y":343,"y2":355,"cx":1018.5,"cy":349},
{"t":"L2.0","x":962,"x2":1075,"y":361,"y2":373,"cx":1018.5,"cy":367},
{"t":"Hide Error Bars","x":962,"x2":1075,"y":518,"y2":530,"cx":1018.5,"cy":524},
{"t":"Daily Averages","x":962,"x2":1075,"y":536,"y2":548,"cx":1018.5,"cy":542},
{"t":"Hide Alpha","x":962,"x2":1075,"y":554,"y2":566,"cx":1018.5,"cy":560},
{"t":"Show TC","x":962,"x2":1075,"y":590,"y2":602,"cx":1018.5,"cy":596},
{"t":"Show Last Cal","x":962,"x2":1075,"y":608,"y2":620,"cx":1018.5,"cy":614},
{"t":"Apply cal","x":962,"x2":1075,"y":683,"y2":695,"cx":1018.5,"cy":689},
{"t":"Raw Data","x":962,"x2":1075,"y":701,"y2":713,"cx":1018.5,"cy":707},
{"t":"Langley","x":962,"x2":1075,"y":719,"y2":731,"cx":1018.5,"cy":725},
{"t":"Send Screen","x":962,"x2":1075,"y":737,"y2":749,"cx":1018.5,"cy":743},
{"t":"Back","x":1076,"x2":1108,"y":1151,"y2":1163,"cx":1092,"cy":1157},
{"t":"Next","x":1076,"x2":1108,"y":1170,"y2":1182,"cx":1092,"cy":1176},
{"t":"Quit","x":1076,"x2":1108,"y":1188,"y2":1200,"cx":1092,"cy":1194},
{"t":"err","x":110,"x2":137,"y":569,"y2":581,"cx":124,"cy":575},
{"t":"log","x":140,"x2":167,"y":569,"y2":581,"cx":153.5,"cy":575}],
"legend":[{"w":340,"x":544,"y":197,"lab":"AOD 340  : 0.1879 ± 0.0478"},{"w":380,"x":544,"y":210.5,"lab":"AOD 380  : 0.0769 ± 0.0530"},{"w":440,"x":544,"y":224,"lab":"AOD 440  : 0.1218 ± 0.0320"},{"w":500,"x":544,"y":237.5,"lab":"AOD 500  : 0.1018 ± 0.0261"},{"w":675,"x":544,"y":251.5,"lab":"AOD 675  : 0.0657 ± 0.0160"},{"w":870,"x":544,"y":265,"lab":"AOD 870  : 0.0512 ± 0.0117"},{"w":1020,"x":544,"y":279,"lab":"AOD 1020  : 0.0493 ± 0.0127"}],
"arrows":[{"s":"a","o":0,"x":257,"y":1005},{"s":"a","o":1,"x":257,"y":380},{"s":"b","o":0,"x":241,"y":400},{"s":"b","o":1,"x":257,"y":377},{"s":"b","o":2,"x":273,"y":400},{"s":"c","o":0,"x":257,"y":1005},{"s":"c","o":1,"x":412,"y":930},{"s":"d","o":0,"x":384,"y":925},{"s":"d","o":1,"x":414,"y":929},{"s":"d","o":2,"x":399,"y":955}],
"slide":[{"x":570,"y":45,"t":"Level 1.5 Cloud Screened Only"},{"x":535,"y":1049,"t":"Anomalously low AOD 380nm"}],
"ylabels":[{"v":-0.1},{"v":0},{"v":0.1},{"v":0.2},{"v":0.3},{"v":0.4},{"v":0.5}]
},
"layer":[
{"encoding":{"x":{"field":"x","type":"quantitative","scale":{"domain":[0,1125],"nice":false,"zero":false},"axis":null},"y":{"field":"y","type":"quantitative","scale":{"domain":[0,1210],"nice":false,"zero":false,"reverse":true},"axis":null}},
"layer":[
{"data":{"values":[{"x":0,"x2":17,"y":0,"y2":1210},{"x":0,"x2":1125,"y":0,"y2":12},{"x":1118,"x2":1125,"y":0,"y2":1210}]},"mark":{"type":"rect","fill":"#0070C0"},"encoding":{"x2":{"field":"x2"},"y2":{"field":"y2"}}},
{"data":{"values":[{"x":104,"x2":1118,"y":12,"y2":46}]},"mark":{"type":"rect","fill":"#dce8f5","stroke":"#a7b8cb","strokeWidth":1},"encoding":{"x2":{"field":"x2"},"y2":{"field":"y2"}}},
{"data":{"values":[{"x":1110,"x2":1118,"y":46,"y2":1208},{"x":104,"x2":1118,"y":1204,"y2":1208}]},"mark":{"type":"rect","fill":"#cfdeee","stroke":"#9fb0c4","strokeWidth":0.8},"encoding":{"x2":{"field":"x2"},"y2":{"field":"y2"}}},
{"data":{"values":[{"x":1010,"x2":1110,"y":14,"y2":33}]},"mark":{"type":"rect","fill":"#e6eef8","stroke":"#7b8ea6","cornerRadius":4},"encoding":{"x2":{"field":"x2"},"y2":{"field":"y2"}}},
{"data":{"values":[{"x":1017,"x2":1029,"y":24,"y2":27},{"x":1044,"x2":1055,"y":18,"y2":27}]},"mark":{"type":"rect","fill":"#ffffff","stroke":"#3a4a60","strokeWidth":1},"encoding":{"x2":{"field":"x2"},"y2":{"field":"y2"}}},
{"data":{"values":[{"x":1037,"x2":1037,"y":14,"y2":33},{"x":1064,"x2":1064,"y":14,"y2":33}]},"mark":{"type":"rule","color":"#9aaabd","strokeWidth":1},"encoding":{"x2":{"field":"x2"},"y2":{"field":"y2"}}},
{"data":{"values":[{"x":1088,"y":23,"t":"✕"}]},"mark":{"type":"text","font":"DejaVu Sans","fontSize":13,"color":"#4a5568","align":"center","baseline":"middle"},"encoding":{"text":{"field":"t"}}},
{"data":{"values":[{"x":104,"y":29,"t":"lay_aot3906"}]},"mark":{"type":"text","font":"Noto Sans","fontSize":12,"color":"#1a1a1a","align":"left","baseline":"middle"},"encoding":{"text":{"field":"t"}}},
{"data":{"values":[{"x":108,"x2":108,"y":73,"y2":1045},{"x":108,"x2":922,"y":73,"y2":73},{"x":922,"x2":922,"y":73,"y2":1082},{"x":130,"x2":922,"y":1082,"y2":1082}]},"mark":{"type":"rule","color":"#222222","strokeWidth":1.5},"encoding":{"x2":{"field":"x2"},"y2":{"field":"y2"}}}
]},
{"data":{"name":"aod"},
"encoding":{
"x":{"field":"t","type":"quantitative","scale":{"domain":[0.4139,16.936],"nice":false,"zero":false},"axis":{"orient":"bottom","offset":-100,"values":[2,3,4,5,6,7,8,9,10,11,12,13],"domain":false,"ticks":true,"tickSize":14,"tickColor":"black","tickWidth":1,"labelAlign":"left","labelBaseline":"top","labelPadding":-13,"labelDx":2,"labelFont":"DejaVu Sans Mono","labelFontSize":10,"labelColor":"black","labelLineHeight":13,"labelFlush":false,"labelOverlap":false,"labelBound":false,"labelExpr":"datum.value == 2 ? ['02','AUG','2009'] : (datum.value < 10 ? '0' : '') + datum.value"}},
"y":{"field":"v","type":"quantitative","scale":{"domain":[-0.1729,0.5388],"nice":false,"zero":false},"axis":{"orient":"right","offset":-1017,"values":[0,0.1,0.2,0.3,0.4],"domain":false,"labels":false,"ticks":true,"tickSize":6,"tickColor":"black"}},
"color":{"field":"w","type":"nominal","scale":{"domain":[340,380,440,500,675,870,1020],"range":["#B22222","#228B22","#AA4545","#2E6B58","#556B2F","#9370DB","#FF0000"]},"legend":null}
},
"layer":[
{"mark":{"type":"line","strokeWidth":1.1,"opacity":0.7},"encoding":{"detail":{"field":"d","type":"nominal"}}},
{"mark":{"type":"point","filled":false,"size":46,"strokeWidth":1.4,"opacity":0.85},"encoding":{"shape":{"field":"w","type":"nominal","scale":{"domain":[340,380,440,500,675,870,1020],"range":["square","triangle-down","M-1,-1L1,1M-1,1L1,-1","triangle-up","square","triangle-down","M-1,-1L1,1M-1,1L1,-1"]},"legend":null}}}
]},
{"encoding":{"x":{"field":"x","type":"quantitative","scale":{"domain":[0,1125],"nice":false,"zero":false},"axis":null},"y":{"field":"y","type":"quantitative","scale":{"domain":[0,1210],"nice":false,"zero":false,"reverse":true},"axis":null}},
"layer":[
{"data":{"name":"boxes"},"mark":{"type":"rect","fill":"white","stroke":"black","strokeWidth":1},"encoding":{"x2":{"field":"x2"},"y2":{"field":"y2"}}},
{"data":{"values":[{"x":163,"x2":508,"y":104,"y2":527}]},"mark":{"type":"rect","filled":false,"stroke":"black","strokeWidth":1.3},"encoding":{"x2":{"field":"x2"},"y2":{"field":"y2"}}},
{"data":{"name":"groups"},"mark":{"type":"rect","filled":false,"stroke":"black","strokeWidth":1,"cornerRadius":6},"encoding":{"x2":{"field":"x2"},"y2":{"field":"y2"}}},
{"data":{"name":"gaps"},"mark":{"type":"rect","fill":"white"},"encoding":{"x2":{"field":"x2"},"y2":{"field":"y2"}}},
{"data":{"name":"rules"},"mark":{"type":"rule","color":"black","strokeWidth":1},"encoding":{"x2":{"field":"x2"},"y2":{"field":"y2"}}},
{"data":{"name":"buttons"},"mark":{"type":"rect","stroke":"black","strokeWidth":1,"cornerRadius":5},"encoding":{"x2":{"field":"x2"},"y2":{"field":"y2"},"fill":{"condition":{"test":"datum.on","value":"black"},"value":"white"}}},
{"data":{"name":"buttons"},"mark":{"type":"text","font":"DejaVu Sans Mono","fontSize":10.5,"align":"center","baseline":"middle"},"encoding":{"x":{"field":"cx","type":"quantitative","scale":{"domain":[0,1125],"nice":false,"zero":false},"axis":null},"y":{"field":"cy","type":"quantitative","scale":{"domain":[0,1210],"nice":false,"zero":false,"reverse":true},"axis":null},"text":{"field":"t"},"color":{"condition":{"test":"datum.on","value":"white"},"value":"black"}}},
{"data":{"name":"ctext"},"mark":{"type":"text","font":"DejaVu Sans Mono","fontSize":10.5,"align":"center","baseline":"middle","color":"black"},"encoding":{"text":{"field":"t"}}},
{"data":{"values":[{"x":175,"y":152,"t":"Alpha = 1.00"}]},"mark":{"type":"text","font":"DejaVu Sans Mono","fontSize":10.5,"align":"left","baseline":"middle","color":"black"},"encoding":{"text":{"field":"t"}}}
]},
{"encoding":{
"x":{"field":"wl","type":"quantitative","scale":{"type":"log","domain":[11.35,37750000],"nice":false},"axis":{"orient":"bottom","offset":-683,"zindex":2,"values":[100,1000,10000],"domain":false,"ticks":false,"labelAlign":"center","labelBaseline":"top","labelPadding":7,"labelDx":-9,"labelFont":"DejaVu Sans Mono","labelFontSize":10.5,"labelColor":"black","labelFlush":false,"labelOverlap":false,"labelBound":false,"labelExpr":"datum.value > 5000 ? '10000' : datum.value > 500 ? '1000' : '100'"}},
"y":{"field":"aod","type":"quantitative","scale":{"type":"log","domain":[0.000005897,3.1023],"nice":false},"axis":{"orient":"left","offset":-163,"zindex":2,"values":[0.01,0.1,1],"domain":false,"ticks":false,"labelAlign":"left","labelBaseline":"middle","labelPadding":24,"labelFont":"DejaVu Sans Mono","labelFontSize":10.5,"labelColor":"black","labelFlush":false,"labelOverlap":false,"labelBound":false,"labelExpr":"datum.value > 0.5 ? '1' : datum.value > 0.05 ? '0.1' : '0.01'"}}
},
"layer":[
{"data":{"name":"alpha"},"mark":{"type":"line","color":"black","strokeWidth":1,"strokeDash":[1,2]}},
{"data":{"name":"curve"},"mark":{"type":"line","color":"#6e6e6e","strokeWidth":1.2}},
{"data":{"name":"means"},"mark":{"type":"line","color":"black","strokeWidth":1}},
{"data":{"name":"means"},"mark":{"type":"point","shape":"square","filled":false,"color":"black","size":40,"strokeWidth":1,"opacity":1}}
]},
{"data":{"name":"legend"},
"encoding":{"x":{"field":"x","type":"quantitative","scale":{"domain":[0,1125],"nice":false,"zero":false},"axis":null},"y":{"field":"y","type":"quantitative","scale":{"domain":[0,1210],"nice":false,"zero":false,"reverse":true},"axis":null},
"color":{"field":"w","type":"nominal","scale":{"domain":[340,380,440,500,675,870,1020],"range":["#B22222","#228B22","#AA4545","#2E6B58","#556B2F","#9370DB","#FF0000"]},"legend":null}},
"layer":[
{"mark":{"type":"tick","orient":"horizontal","size":30,"thickness":1}},
{"mark":{"type":"point","filled":false,"size":40,"strokeWidth":1,"opacity":1},"encoding":{"shape":{"field":"w","type":"nominal","scale":{"domain":[340,380,440,500,675,870,1020],"range":["square","triangle-down","M-1,-1L1,1M-1,1L1,-1","triangle-up","square","triangle-down","M-1,-1L1,1M-1,1L1,-1"]},"legend":null}}},
{"mark":{"type":"text","align":"left","baseline":"middle","dx":16,"font":"DejaVu Sans Mono","fontSize":10.6},"encoding":{"text":{"field":"lab"}}}
]},
{"encoding":{"x":{"field":"x","type":"quantitative","scale":{"domain":[0,1125],"nice":false,"zero":false},"axis":null},"y":{"field":"y","type":"quantitative","scale":{"domain":[0,1210],"nice":false,"zero":false,"reverse":true},"axis":null}},
"layer":[
{"data":{"values":[{"x":258,"x2":890,"y":5,"y2":72}]},"mark":{"type":"rect","fill":"white"},"encoding":{"x2":{"field":"x2"},"y2":{"field":"y2"}}},
{"data":{"values":[{"x":328,"x2":334,"y":0,"y2":5}]},"mark":{"type":"rect","fill":"#FFE600"},"encoding":{"x2":{"field":"x2"},"y2":{"field":"y2"}}},
{"data":{"name":"arrows"},"mark":{"type":"line","color":"#4A7DBA","strokeWidth":7,"strokeCap":"round","strokeJoin":"round"},"encoding":{"detail":{"field":"s","type":"nominal"},"order":{"field":"o","type":"quantitative"}}},
{"data":{"name":"slide"},"mark":{"type":"text","font":"Lato","fontSize":43,"color":"black","align":"center","baseline":"middle"},"encoding":{"text":{"field":"t"}}}
]},
{"data":{"name":"ylabels"},"mark":{"type":"point","opacity":0},
"encoding":{"y":{"field":"v","type":"quantitative","scale":{"domain":[-0.1,0,0.1,0.2,0.3,0.4,0.5],"range":[1076,916,757,587,421,245,85],"nice":false,"zero":false},"axis":{"orient":"left","offset":-90,"zindex":2,"values":[-0.1,0,0.1,0.2,0.3,0.4,0.5],"domain":false,"ticks":false,"labelPadding":{"condition":[{"test":"datum.value < -0.05","value":-18},{"test":"abs(datum.value - 0.2) < 0.01","value":-3}],"value":2},"labelAlign":"right","labelBaseline":"middle","labelFont":"Lato","labelFontSize":29,"labelColor":"black","labelFlush":false,"labelOverlap":false,"labelBound":false,"labelExpr":"datum.value < -0.05 ? '-0.1-' : format(datum.value, '.1f') + '-'"}}}}
]
}
